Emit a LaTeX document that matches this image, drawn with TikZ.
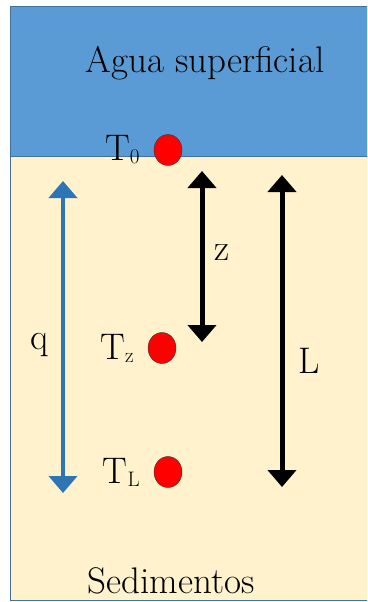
\documentclass[tikz,border=0pt]{standalone}
\usetikzlibrary{arrows.meta,positioning,shapes.geometric}
\definecolor{WaterBlue}{HTML}{5B9BD5}
\definecolor{SedimentCream}{HTML}{FFF2CC}
\definecolor{FlowBlue}{HTML}{2E75B6}
\definecolor{EdgeBlue}{HTML}{41719C}
\newcommand{\lowsub}[1]{\raisebox{-3pt}{\fontsize{21}{21}\selectfont #1}}
\tikzset{
  probe/.style={ellipse,draw=black!80,fill=red,minimum width=28pt,minimum height=31pt,inner sep=0pt},
  lab/.style={font=\fontsize{37}{42}\selectfont,inner sep=0pt},
  dimarrow/.style={{Triangle[width=28pt,length=17pt]}-{Triangle[width=28pt,length=17pt]},line width=5pt}
}

\begin{document}
\begin{tikzpicture}[x=1pt,y=-1pt]
  \clip (0,0) rectangle (367,602);
  \fill[white] (0,0) rectangle (367,602);
  \draw[EdgeBlue,fill=WaterBlue] (10,6) rectangle (380,156);
  \draw[EdgeBlue,fill=SedimentCream] (10,156) rectangle (380,600);
  \node[lab] (water) at (205,63) {Agua superficial};
  \node[lab] (sed) at (171,581) {Sedimentos};
  \foreach \name/\x/\y in {0/168/150,z/162/348,L/168/472} {
    \node[probe] (p\name) at (\x,\y) {};
    \node[lab,left=14pt of p\name] (t\name) {T\lowsub{\name}};
  }
  % flux and depths
  \coordinate (qtop) at (63,181);
  \coordinate (qbot) at (63,493);
  \draw[dimarrow,FlowBlue,line width=4pt] (qtop) -- (qbot);
  \node[lab] (q) at (39,345) {q};
  \coordinate (ztop) at (202,171);
  \coordinate (zbot) at (202,342);
  \draw[dimarrow] (ztop) -- (zbot);
  \node[lab] (zl) at (222,253) {z};
  \coordinate (Ltop) at (282,175);
  \coordinate (Lbot) at (282,487);
  \draw[dimarrow] (Ltop) -- (Lbot);
  \node[lab] (Ll) at (309,361) {L};
\end{tikzpicture}
\end{document}
